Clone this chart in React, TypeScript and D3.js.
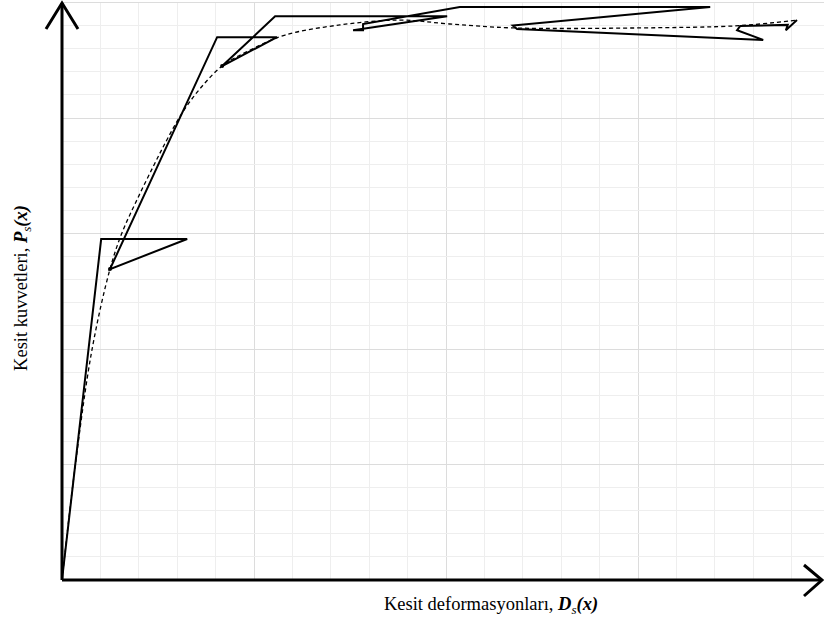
import React from 'react';
import * as d3 from 'd3';

// solid line: step by step capacity path
const solidX = [0, 1.02, 3.26, 1.25, 4.04, 5.6, 4.17, 5.55, 10.03, 7.58, 7.84, 7.84, 10.36, 16.88, 11.74, 11.85, 18.26, 17.58, 17.66, 18.9, 18.85, 19.14];
const solidY = [0, 14.76, 14.76, 13.46, 23.5, 23.5, 22.25, 24.4, 24.4, 23.8, 23.8, 24.07, 24.8, 24.8, 24.0, 23.85, 23.38, 23.8, 23.98, 24.03, 23.8, 24.24];

// dashed line: envelope curve
const dashX = [0, 0.34, 0.78, 1.25, 1.56, 1.95, 2.37, 2.73, 3.13, 3.59, 4.17, 4.9, 5.81, 7.24, 8.8, 10.1, 11.74, 15.05, 17.66, 19.14];
const dashY = [0, 4.89, 9.96, 13.46, 15.02, 16.45, 17.88, 19.05, 20.22, 21.26, 22.25, 22.94, 23.59, 24.03, 24.24, 24.07, 23.9, 23.9, 24.0, 24.24];

const minorX = d3.range(1, 20);
const minorY = d3.range(1, 25);

const xLabel = 'Kesit deformasyonları, ';
const yLabel = 'Kesit kuvvetleri,  ';

const W = 824;
const H = 633;

export default function App() {
  const x = d3.scaleLinear().domain([0, 20]).range([62, 830]);
  const y = d3.scaleLinear().domain([0, 25]).range([580, 2.5]);

  const line = d3
    .line<number>()
    .x((_, i) => x(solidX[i]))
    .y((_, i) => y(solidY[i]));

  const dashed = d3
    .line<number>()
    .x((_, i) => x(dashX[i]))
    .y((_, i) => y(dashY[i]))
    .curve(d3.curveCatmullRom.alpha(0.5));

  const x0 = x(0);
  const y0 = y(0);

  return (
    <div style={{ position: 'absolute', left: 0, top: 0 }}>
      <svg width={W} height={H} style={{ display: 'block', fontFamily: '"Liberation Serif", "Times New Roman", serif' }}>
        <rect width={W} height={H} fill="#fff" />
        {/* grid */}
        <g shapeRendering="crispEdges">
          {minorX.map((d) => (
            <line key={'gx' + d} x1={x(d)} x2={x(d)} y1={y(25)} y2={y0} stroke={d % 5 === 0 ? '#dcdcdc' : '#eeeeee'} strokeWidth={1} />
          ))}
          {minorY.map((d) => (
            <line key={'gy' + d} x1={x0} x2={W} y1={y(d)} y2={y(d)} stroke={d % 5 === 0 ? '#dcdcdc' : '#eeeeee'} strokeWidth={1} />
          ))}
          <line x1={x0} x2={W} y1={y(25)} y2={y(25)} stroke="#dcdcdc" />
        </g>

        {/* curves */}
        <path d={dashed(dashX) || ''} fill="none" stroke="#000" strokeWidth={1.3} strokeDasharray="4,3" />
        <path d={line(solidX) || ''} fill="none" stroke="#000" strokeWidth={2} strokeLinejoin="miter" />
        {[3, 6].map((i) => (
          <circle key={i} cx={x(solidX[i])} cy={y(solidY[i])} r={2} fill="#000" />
        ))}

        {/* axes with open arrows */}
        <g stroke="#000" strokeWidth={3} fill="none">
          <line x1={x0} y1={y0} x2={x0} y2={3} />
          <polyline points={`${x0 - 16},29 ${x0},3 ${x0 + 16},29`} strokeLinejoin="miter" />
          <line x1={x0} y1={y0} x2={822} y2={y0} />
          <polyline points={`804,565 822,${y0} 804,596`} />
        </g>

        {/* labels */}
        <text x={491} y={610} textAnchor="middle" fontSize={18.5} fill="#000">
          {xLabel}
          <tspan fontWeight="bold" fontStyle="italic">D</tspan>
          <tspan fontStyle="italic" fontSize={13} dy={4}>s</tspan>
          <tspan fontWeight="bold" fontStyle="italic" dy={-4}>(x)</tspan>
        </text>
        <text transform="translate(27,288) rotate(-90)" textAnchor="middle" fontSize={18.5} fill="#000">
          {yLabel}
          <tspan fontWeight="bold" fontStyle="italic">P</tspan>
          <tspan fontStyle="italic" fontSize={13} dy={4}>s</tspan>
          <tspan fontWeight="bold" fontStyle="italic" dy={-4}>(x)</tspan>
        </text>
      </svg>
    </div>
  );
}
